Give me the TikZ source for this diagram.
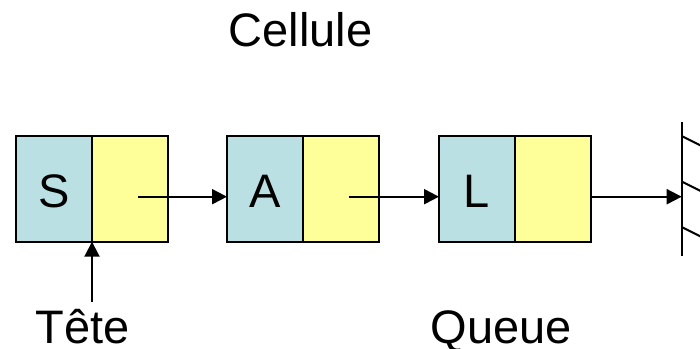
\documentclass[tikz,border=0pt]{standalone}
\usepackage{fontspec}
\setmainfont{Liberation Sans}
\usetikzlibrary{arrows.meta,calc}
\definecolor{databg}{HTML}{BBE0E3}
\definecolor{linkbg}{HTML}{FFFF99}

\begin{document}
\begin{tikzpicture}[x=1pt,y=-1pt,
  field/.style={draw=black, line width=2pt, minimum width=76pt, minimum height=106pt,
    inner sep=0pt, outer sep=0pt, text height=36.6pt, text depth=0pt,
    font=\fontsize{47}{56}\selectfont},
  datafield/.style={field, fill=databg},
  linkfield/.style={field, fill=linkbg},
  ptr/.style={line width=2pt, -{Triangle[length=15pt,width=15pt]}},
  wall/.style={line width=2pt},
  caption/.style={anchor=base, inner sep=0pt, font=\fontsize{47}{56}\selectfont}]
  \useasboundingbox (0,0) rectangle (700,348);

  % captions
  \node[caption] (cellule) at (300.5,46.5) {Cellule};
  \node[caption] (tete) at (83,343) {Tête};
  \node[caption] (queue) at (501.5,343) {Queue};

  % the three cells: data field + link field
  \node[datafield] (d1) at (54,188.7) {S};
  \node[linkfield] (n1) at (130,188.7) {};
  \node[datafield] (d2) at (265,188.7) {A};
  \node[linkfield] (n2) at (341,188.7) {};
  \node[datafield] (d3) at (477,188.7) {L};
  \node[linkfield] (n3) at (553,188.7) {};

  % start points of the links
  \coordinate (p1) at ($(n1.center)+(8,8)$);
  \coordinate (p2) at ($(n2.center)+(8,8)$);
  \coordinate (p3) at ($(n3.east)+(0,8)$);

  % null terminator (wall)
  \coordinate (nilTop) at (681.7,122);
  \coordinate (nilBot) at (681.7,256);
  \coordinate (h1) at (681.7,136);
  \coordinate (h2) at (681.7,181.5);
  \coordinate (h3) at (681.7,227);
  \draw[wall] (nilTop) -- (nilBot);
  \draw[wall] (h1) -- ++(19,9.5);
  \draw[wall] (h2) -- ++(19,9.5);
  \draw[wall] (h3) -- ++(19,9.5);

  % links
  \draw[ptr] (p1) -- (p1 -| d2.west);
  \draw[ptr] (p2) -- (p2 -| d3.west);
  \draw[ptr] (p3) -- (p3 -| nilTop);

  % head pointer
  \coordinate (tetePtr) at (92,302);
  \draw[ptr] (tetePtr) -- (d1.south east);
\end{tikzpicture}
\end{document}
